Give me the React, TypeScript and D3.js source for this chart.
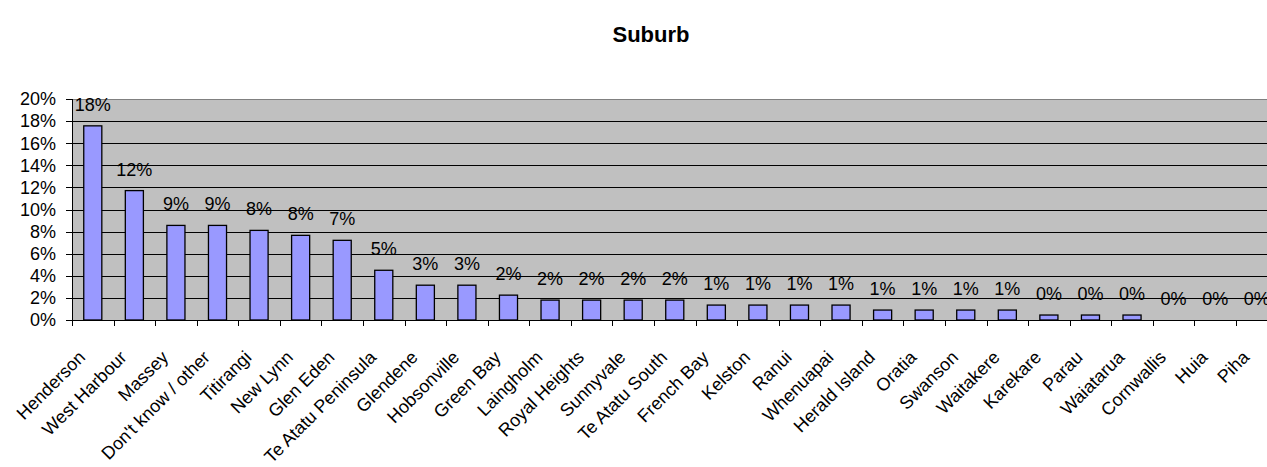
import React from "react";
import { scaleLinear, scaleBand, range } from "d3";

const suburbs = [
  "Henderson", "West Harbour", "Massey", "Don't know / other", "Titirangi",
  "New Lynn", "Glen Eden", "Te Atatu Peninsula", "Glendene", "Hobsonville",
  "Green Bay", "Laingholm", "Royal Heights", "Sunnyvale", "Te Atatu South",
  "French Bay", "Kelston", "Ranui", "Whenuapai", "Herald Island",
  "Oratia", "Swanson", "Waitakere", "Karekare", "Parau",
  "Waiatarua", "Cornwallis", "Huia", "Piha",
];

// share of respondents, in percent
const shares = [
  17.57, 11.71, 8.56, 8.56, 8.11,
  7.66, 7.21, 4.5, 3.15, 3.15,
  2.25, 1.8, 1.8, 1.8, 1.8,
  1.35, 1.35, 1.35, 1.35, 0.9,
  0.9, 0.9, 0.9, 0.45, 0.45,
  0.45, 0, 0, 0,
];

const yTicks = [0, 2, 4, 6, 8, 10, 12, 14, 16, 18, 20];

const font = "'Liberation Sans', Arial, sans-serif";

const App = () => {
  const width = 1267;
  const height = 467;
  const left = 72;
  const top = 99;
  const bottom = 320;
  const band = 41.57;
  const right = left + suburbs.length * band; // runs past the right edge, as in the original

  const x = scaleBand()
    .domain(suburbs)
    .range([left, right])
    .paddingInner(0)
    .paddingOuter(0);

  const y = scaleLinear().domain([0, 20]).range([bottom, top]);

  const barW = x.bandwidth() / 2.3;

  return (
    <svg
      width={width}
      height={height}
      style={{ position: "absolute", left: 0, top: 0, display: "block" }}
      fontFamily={font}
    >
      <rect x={0} y={0} width={width} height={height} fill="#fff" />
      <text
        x={651}
        y={42}
        textAnchor="middle"
        fontSize="22"
        fontWeight="bold"
        fill="#000"
      >
        Suburb
      </text>

      {/* plot area */}
      <rect x={left} y={top} width={right - left} height={bottom - top} fill="#c0c0c0" />
      {yTicks.slice(1, -1).map((t) => (
        <line key={t} x1={left} x2={right} y1={Math.round(y(t)) + 0.5} y2={Math.round(y(t)) + 0.5} stroke="#000" />
      ))}
      <line x1={left} x2={right} y1={top + 0.5} y2={top + 0.5} stroke="#808080" />

      {/* bars */}
      {suburbs.map((s, i) => {
        const cx = x(s) + x.bandwidth() / 2;
        const v = shares[i];
        if (v <= 0) return null;
        return (
          <rect
            key={s}
            x={cx - barW / 2}
            y={y(v)}
            width={barW}
            height={bottom - y(v)}
            fill="#9999ff"
            stroke="#000"
            strokeWidth={1.3}
          />
        );
      })}

      {/* data labels */}
      {suburbs.map((s, i) => (
        <text
          key={s}
          x={x(s) + x.bandwidth() / 2}
          y={y(shares[i]) - 15}
          textAnchor="middle"
          fontSize="18"
          fill="#000"
        >
          {`${Math.round(shares[i])}%`}
        </text>
      ))}

      {/* y axis */}
      <line x1={left + 0.5} x2={left + 0.5} y1={top} y2={bottom} stroke="#000" />
      {yTicks.map((t) => (
        <g key={t}>
          <line x1={left - 6} x2={left} y1={Math.round(y(t)) + 0.5} y2={Math.round(y(t)) + 0.5} stroke="#000" />
          <text x={56} y={y(t)} dy="0.35em" textAnchor="end" fontSize="18" fill="#000">
            {`${t}%`}
          </text>
        </g>
      ))}

      {/* x axis */}
      <line x1={left} x2={right} y1={bottom + 0.5} y2={bottom + 0.5} stroke="#000" />
      {range(suburbs.length + 1).map((k) => (
        <line
          key={k}
          x1={Math.round(left + k * band) + 0.5}
          x2={Math.round(left + k * band) + 0.5}
          y1={bottom}
          y2={bottom + 6}
          stroke="#000"
        />
      ))}
      {suburbs.map((s) => {
        const cx = x(s) + x.bandwidth() / 2;
        return (
          <text
            key={s}
            transform={`translate(${cx - 11},${bottom + 34}) rotate(-45)`}
            textAnchor="end"
            dy="0.35em"
            fontSize="18"
            fill="#000"
          >
            {s}
          </text>
        );
      })}
    </svg>
  );
};

export default App;
